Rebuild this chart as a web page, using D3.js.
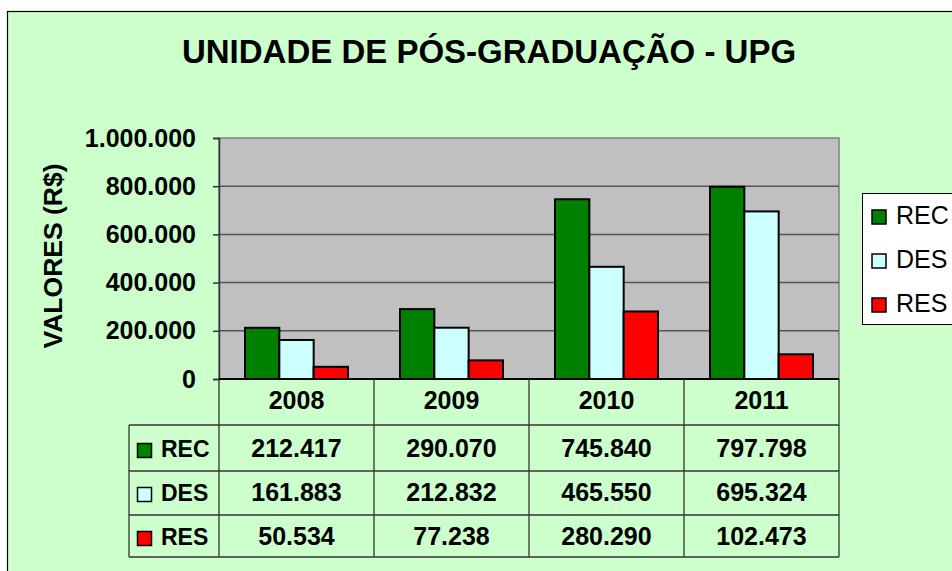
<!DOCTYPE html>
<html><head><meta charset="utf-8">
<script src="https://cdn.jsdelivr.net/npm/d3@7/dist/d3.min.js"></script>
<style>html,body{margin:0;padding:0;background:#fff;}svg{display:block;font-family:"Liberation Sans",Arial,sans-serif;}</style>
</head><body>
<script>
const title = "UNIDADE DE PÓS-GRADUAÇÃO - UPG";
const yTitle = "VALORES (R$)";
const years = ["2008", "2009", "2010", "2011"];
const seriesNames = ["REC", "DES", "RES"];
const seriesColors = ["#008000", "#CCFFFF", "#FF0000"];
const rec = [212417, 290070, 745840, 797798];
const des = [161883, 212832, 465550, 695324];
const res = [50534, 77238, 280290, 102473];
const yTicks = [0, 200000, 400000, 600000, 800000, 1000000];

const seriesValues = [rec, des, res];
const W = 952, H = 571;
const fmt = v => d3.format(",")(v).replace(/,/g, ".");

const svg = d3.select("body").append("svg").attr("width", W).attr("height", H);
svg.append("rect").attr("x", 7.5).attr("y", 11.5).attr("width", 1000).attr("height", 600)
  .attr("fill", "#CCFFCC").attr("stroke", "#000").attr("stroke-width", 1.2);

svg.append("text").attr("x", 489).attr("y", 63).attr("text-anchor", "middle")
  .attr("font-size", 33).attr("font-weight", "bold").text(title);

const pL = 219, pR = 839, pT = 138, pB = 379;
const x = d3.scaleBand().domain(years).range([pL, pR]);
const x1 = d3.scaleBand().domain(seriesNames).range([26, x.bandwidth() - 26]);
const y = d3.scaleLinear().domain([0, 1000000]).range([pB, pT]);

svg.append("rect").attr("x", pL).attr("y", pT).attr("width", pR - pL).attr("height", pB - pT)
  .attr("fill", "#C0C0C0").attr("stroke", "#808080").attr("stroke-width", 1.5);

svg.append("g").selectAll("line").data(yTicks.slice(1, -1)).join("line")
  .attr("x1", pL).attr("x2", pR).attr("y1", d => y(d)).attr("y2", d => y(d))
  .attr("stroke", "#555").attr("stroke-width", 1.5);

const yAxis = svg.append("g").attr("transform", `translate(${pL},0)`)
  .call(d3.axisLeft(y).tickValues(yTicks).tickSize(6).tickPadding(17).tickFormat(fmt));
yAxis.select(".domain").attr("stroke", "#333").attr("stroke-width", 1.5);
yAxis.selectAll(".tick line").attr("stroke", "#333").attr("stroke-width", 1.5);
yAxis.selectAll("text").attr("font-size", 25).attr("font-weight", "bold")
  .attr("font-family", "Liberation Sans, Arial, sans-serif").attr("fill", "#000");

svg.append("text").attr("transform", "translate(62,256) rotate(-90)").attr("text-anchor", "middle")
  .attr("font-size", 26.5).attr("font-weight", "bold").text(yTitle);

const groups = svg.append("g").selectAll("g").data(years).join("g")
  .attr("transform", d => `translate(${x(d)},0)`);
groups.selectAll("rect").data((d, i) => seriesNames.map((s, j) => ({s, j, v: seriesValues[j][i]})))
  .join("rect")
  .attr("x", d => x1(d.s)).attr("width", x1.bandwidth())
  .attr("y", d => y(d.v)).attr("height", d => y(0) - y(d.v))
  .attr("fill", d => seriesColors[d.j]).attr("stroke", "#000").attr("stroke-width", 2);

// data table
const tL = 129;
const tg = svg.append("g").attr("stroke", "#333").attr("stroke-width", 1.3);
tg.append("line").attr("x1", pL).attr("x2", pR).attr("y1", pB).attr("y2", pB).attr("stroke", "#000").attr("stroke-width", 2);
[425, 471, 515, 557].forEach(yy => tg.append("line").attr("x1", tL).attr("x2", pR).attr("y1", yy).attr("y2", yy));
tg.append("line").attr("x1", tL).attr("x2", tL).attr("y1", 425).attr("y2", 557);
years.forEach(yr => tg.append("line").attr("x1", x(yr)).attr("x2", x(yr)).attr("y1", 379).attr("y2", 557));
tg.append("line").attr("x1", pR).attr("x2", pR).attr("y1", 379).attr("y2", 557);

svg.append("g").selectAll("text").data(years).join("text")
  .attr("x", d => x(d) + x.bandwidth() / 2).attr("y", 409).attr("text-anchor", "middle")
  .attr("font-size", 25).attr("font-weight", "bold").text(d => d);

const baselines = [457, 501, 545];
seriesNames.forEach((s, j) => {
  const by = baselines[j];
  svg.append("rect").attr("x", 137.5).attr("y", by - 13.5).attr("width", 14).attr("height", 14)
    .attr("fill", seriesColors[j]).attr("stroke", "#000").attr("stroke-width", 1.5);
  svg.append("text").attr("x", 161).attr("y", by).attr("font-size", 23).attr("font-weight", "bold").text(s);
  svg.append("g").selectAll("text").data(years).join("text")
    .attr("x", d => x(d) + x.bandwidth() / 2).attr("y", by).attr("text-anchor", "middle")
    .attr("font-size", 25).attr("font-weight", "bold")
    .text((d, i) => fmt(seriesValues[j][i]));
});

// legend
svg.append("rect").attr("x", 862.5).attr("y", 193.5).attr("width", 120).attr("height", 131)
  .attr("fill", "#fff").attr("stroke", "#000").attr("stroke-width", 1);
const lg = svg.append("g").selectAll("g").data(seriesNames).join("g")
  .attr("transform", (d, i) => `translate(0,${224 + i * 44})`);
lg.append("rect").attr("x", 872).attr("y", -14).attr("width", 14).attr("height", 14)
  .attr("fill", (d, i) => seriesColors[i]).attr("stroke", "#000").attr("stroke-width", 1.5);
lg.append("text").attr("x", 896).attr("y", 0).attr("font-size", 25).text(d => d);
</script>
</body></html>
